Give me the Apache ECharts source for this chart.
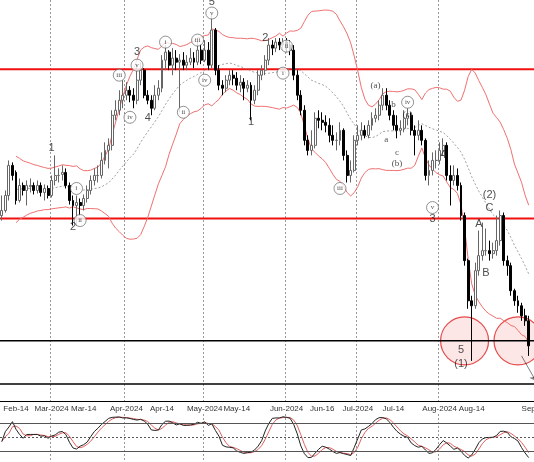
<!DOCTYPE html>
<html><head><meta charset="utf-8">
<script src="https://cdn.jsdelivr.net/npm/echarts@6/dist/echarts.min.js"></script>
<style>html,body{margin:0;padding:0;background:#fff}#chart{width:534px;height:462px}</style>
</head><body><div id="chart"></div>
<script>
// daily candles [open, close, low, high], price units of the chart
var candles = [
[185,190,180,205],[190,205,188,210],[205,235,200,240],[235,225,220,238],[228,200,196,230],[200,215,198,222],[215,210,205,218],[210,215,195,220],[214,215,208,222],[215,210,206,218],
[210,215,207,220],[215,208,204,218],[208,212,200,216],[212,205,202,215],[205,220,203,225],[220,225,215,245],[225,225,218,232],[226,228,220,235],[228,215,212,232],[215,200,196,218],
[200,195,175,205],[195,198,175,205],[198,195,185,202],[195,202,190,206],[202,210,198,215],[210,220,206,225],[220,225,215,232],[225,225,218,235],[225,240,222,248],[240,250,236,258],
[250,255,232,262],[255,285,250,290],[285,290,280,300],[290,300,285,310],[300,305,292,320],[305,310,300,318],[310,305,298,314],[305,300,292,312],[300,320,296,335],[320,330,315,338],
[330,305,302,332],[305,300,296,310],[300,292,285,305],[292,305,290,315],[305,312,300,320],[312,340,308,345],[340,348,330,355],[348,335,330,350],[335,342,325,352],[342,338,330,350],
[338,340,288,346],[340,335,330,348],[335,338,330,345],[338,342,335,352],[342,338,332,348],[338,350,335,358],[350,340,336,356],[340,350,338,360],[350,335,330,358],[335,370,332,385],
[370,330,325,372],[330,315,310,335],[315,312,305,320],[312,320,308,325],[320,325,315,330],[325,322,315,330],[322,315,310,328],[315,318,308,325],[318,312,300,322],[312,315,308,320],
[315,300,280,318],[300,310,296,315],[310,325,305,330],[325,330,320,335],[330,340,325,345],[340,355,335,362],[355,352,345,360],[352,358,348,362],[358,355,350,362],[355,358,350,362],
[358,355,348,362],[355,350,345,360],[350,325,320,355],[325,305,300,330],[305,290,285,310],[290,260,255,295],[260,250,245,265],[250,255,245,270],[255,282,252,288],[282,280,272,290],
[280,278,270,288],[278,275,268,285],[275,265,258,282],[265,260,255,275],[260,260,250,268],[260,270,255,278],[270,245,240,272],[245,225,218,250],[225,230,218,240],[230,260,228,265],
[260,265,255,275],[265,270,260,278],[270,265,262,275],[265,275,262,280],[275,282,270,288],[282,285,278,292],[285,295,280,300],[295,305,290,312],[305,295,290,312],[295,285,280,300],
[285,275,270,290],[275,270,262,285],[270,272,265,280],[272,282,268,290],[282,285,275,292],[285,270,265,288],[270,265,245,275],[265,270,260,280],[270,260,255,275],[260,225,220,262],
[225,230,215,240],[230,240,225,248],[240,240,232,250],[240,250,236,258],[250,255,245,262],[255,225,220,258],[225,220,195,235],[220,225,215,235],[225,215,210,232],[215,185,180,218],
[185,140,135,188],[140,100,92,142],[100,95,40,105],[95,130,92,138],[130,145,125,170],[145,150,140,178],[150,150,145,172],[150,147,140,160],[147,150,142,158],[150,160,145,185],
[160,185,155,190],[185,140,135,188],[140,135,125,145],[135,110,105,138],[110,100,95,112],[100,95,88,105],[95,85,80,98],[85,80,75,92],[80,55,45,85]
];
var dayCount = 150;
var tickLabels = {4:'Feb-14',14:'Mar-2024',23:'Mar-14',35:'Apr-2024',45:'Apr-14',57:'May-2024',66:'May-14',80:'Jun-2024',90:'Jun-16',100:'Jul-2024',110:'Jul-14',123:'Aug-2024',132:'Aug-14',148:'Sep'};
var monthStarts = [14,35,57,80,100,123];
var redLevels = [331,182];
var blackLevels = [60,17];
// wave counts: [day index, level, text, circled]
var waveLabels = [
[14,252,'1',0],[20,174,'2',0],[20.5,212,'i',1],[21.5,180,'ii',1],[33,325,'iii',1],[38,348,'3',0],[38,335,'v',1],
[36,283,'iv',1],[41,282,'4',0],[46,358,'i',1],[50.5,288,'ii',1],[54.5,360,'iii',1],[56.5,320,'iv',1],[58.5,387,'v',1],[58.5,398,'5',0],
[70,278,'1',0],[74,362,'2',0],[78.5,327,'i',1],[79.5,354,'ii',1],[95,212,'iii',1],[105,315,'(a)',0],[110,296,'b',0],[114,298,'iv',1],
[108,261,'a',0],[114,286,'(c)',0],[111,248,'c',0],[111,237,'(b)',0],[124,245,'4',0],[121,193,'v',1],[121,182,'3',0],
[137,206,'(2)',0],[137,193,'C',0],[134,177,'A',0],[136,128,'B',0],[128.5,51,'5',0],[128.5,37,'(1)',0]
];
var circles = [[129.5,60],[145,60]];

var cats = [];
for (var i = 0; i < dayCount; i++) cats.push(String(i));
var closes = candles.map(function(c){ return c[1]; });

function bands(n){
    var mid=[], up=[], lo=[];
    for (var i = 0; i < closes.length; i++) {
        if (i < 4) { mid.push('-'); up.push('-'); lo.push('-'); continue; }
        var s = closes.slice(Math.max(0, i-n+1), i+1);
        var m = s.reduce(function(a,b){return a+b;},0)/s.length;
        var v = s.reduce(function(a,b){return a+(b-m)*(b-m);},0)/s.length;
        mid.push(m); up.push(m+2*Math.sqrt(v)); lo.push(m-2*Math.sqrt(v));
    }
    return [mid, up, lo];
}
function sma(arr, n){
    return arr.map(function(v,i){
        var s = arr.slice(Math.max(0,i-n+1), i+1);
        return s.reduce(function(a,b){return a+b;},0)/s.length;
    });
}
var bb = bands(20);
var raw = candles.map(function(c,i){
    var w = candles.slice(Math.max(0,i-13), i+1);
    var hh = Math.max.apply(null, w.map(function(x){return x[3];}));
    var ll = Math.min.apply(null, w.map(function(x){return x[2];}));
    return hh===ll ? 50 : (c[1]-ll)/(hh-ll)*100;
});
var stK = sma(raw, 3), stD = sma(stK, 3);

function levelSeries(v, color, width){
    return { type:'line', xAxisIndex:2, yAxisIndex:0, data:[[0,v],[1,v]], showSymbol:false, silent:true,
             z:2, lineStyle:{ color:color, width:width } };
}

var myChart = echarts.init(document.getElementById('chart'));
var lineBase = { type:'line', showSymbol:false, silent:true, xAxisIndex:0, yAxisIndex:0 };
var series = [
    { type:'candlestick', data:candles, barWidth:2.4, z:3,
      itemStyle:{ color:'#fff', color0:'#000', borderColor:'#666', borderColor0:'#000', borderWidth:1 } },
    Object.assign({}, lineBase, { data:bb[0], lineStyle:{ color:'#888', width:0.8, type:[2,2] } }),
    Object.assign({}, lineBase, { data:bb[1], lineStyle:{ color:'#f07070', width:1 } }),
    Object.assign({}, lineBase, { data:bb[2], lineStyle:{ color:'#f07070', width:1 } }),
    { type:'scatter', symbol:'circle', symbolSize:48, silent:true, z:1,
      data:circles, itemStyle:{ color:'rgba(240,80,80,0.18)', borderColor:'#e02020', borderWidth:1.2 } },
    { type:'lines', coordinateSystem:'cartesian2d', silent:true, symbol:['none','arrow'], symbolSize:6,
      data:[{ coords:[[146,45],[150,20]] }], lineStyle:{ color:'#000', width:1 } },
    { type:'scatter', silent:true, z:5,
      data: waveLabels.map(function(w){
          var roman = w[3] || /^\(?[a-c]\)?$/.test(w[2]);
          return { value:[w[0], w[1]], name:w[2],
                   symbol:'circle', symbolSize: w[3] ? 12 : 8,
                   itemStyle: w[3] ? { color:'#fff', borderColor:'#555', borderWidth:0.8 }
                                   : { color:'rgba(255,255,255,0)', borderWidth:0 },
                   label:{ show:true, position:'inside', formatter:w[2],
                           fontSize: w[3] ? 7 : (roman ? 9 : 11),
                           fontFamily: roman ? 'Liberation Serif' : 'Arial',
                           color:'#222' } };
      }) },
    { type:'line', xAxisIndex:1, yAxisIndex:1, data:stD, showSymbol:false, silent:true,
      lineStyle:{ color:'#e06060', width:1 },
      markLine:{ silent:true, symbol:'none', label:{show:false},
        data:[ {yAxis:80, lineStyle:{color:'#555', type:'solid', width:1}},
               {yAxis:50, lineStyle:{color:'#555', type:[2,2], width:1}},
               {yAxis:20, lineStyle:{color:'#555', type:'solid', width:1}} ] } },
    { type:'line', xAxisIndex:1, yAxisIndex:1, data:stK, showSymbol:false, silent:true,
      lineStyle:{ color:'#222', width:1 } }
];
redLevels.forEach(function(v){ series.push(levelSeries(v, '#f01010', 2)); });
blackLevels.forEach(function(v){ series.push(levelSeries(v, '#000', 1.5)); });

myChart.setOption({
    animation: false,
    backgroundColor: '#fff',
    grid: [
        { left:0, right:0, top:0, height:401, outerBoundsMode:'none' },
        { left:0, right:0, top:414, height:46, outerBoundsMode:'none' }
    ],
    xAxis: [
        { type:'category', data:cats, gridIndex:0, boundaryGap:true,
          axisLine:{ lineStyle:{color:'#000'} }, axisTick:{show:false},
          axisLabel:{ interval:function(i){ return tickLabels[i]!==undefined; },
                      formatter:function(v,i){ return tickLabels[i]||''; },
                      fontSize:8, color:'#333', margin:4, fontFamily:'Arial' },
          splitLine:{ show:true, interval:function(i){ return monthStarts.indexOf(i)>=0; },
                      lineStyle:{ color:'#999', type:[2,2] } } },
        { type:'category', data:cats, gridIndex:1, boundaryGap:true,
          axisLine:{show:false}, axisTick:{show:false}, axisLabel:{show:false},
          splitLine:{ show:true, interval:function(i){ return monthStarts.indexOf(i)>=0; },
                      lineStyle:{ color:'#999', type:[2,2] } } },
        { type:'value', gridIndex:0, min:0, max:1, show:false }
    ],
    yAxis: [
        { type:'value', gridIndex:0, min:0, max:400, show:false },
        { type:'value', gridIndex:1, min:0, max:100, show:false }
    ],
    series: series
});
</script></body></html>
